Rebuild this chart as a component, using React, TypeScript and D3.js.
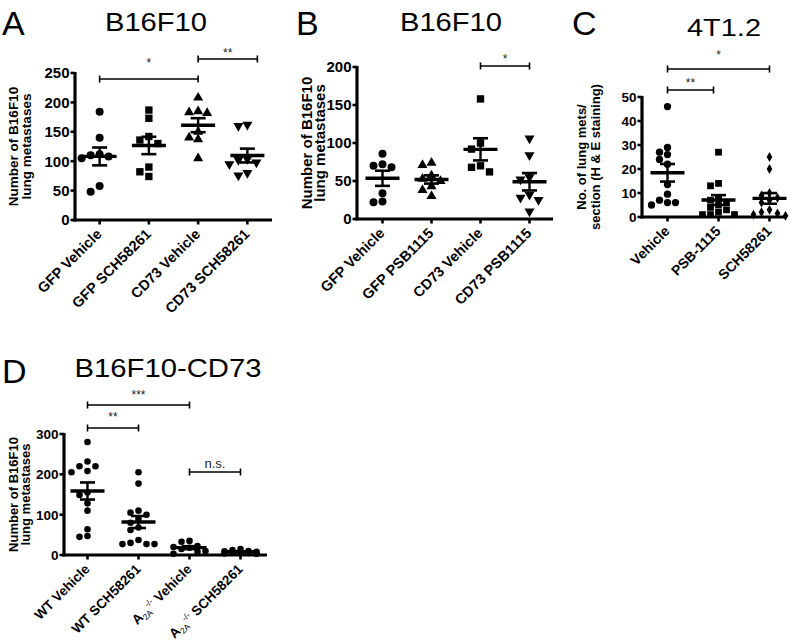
import React from "react";
import * as d3 from "d3";

const FONT = "'Liberation Sans', Arial, Helvetica, sans-serif";

// ---------------- Panel A ----------------
const aTitle = "B16F10";
const aCategories = ["GFP Vehicle", "GFP SCH58261", "CD73 Vehicle", "CD73 SCH58261"];
const aGfpVehicle = [184, 140, 112, 110, 108, 105, 58, 48];
const aGfpSch58261 = [187, 173, 142, 136, 130, 90, 82, 74];
const aCd73Vehicle = [208, 185, 183, 182, 150, 140, 137, 105];
const aCd73Sch58261 = [162, 160, 104, 102, 98, 95, 80, 76];
const aYTicks = [0, 50, 100, 150, 200, 250];
const aYTitle = ["Number of B16F10", "lung metastases"];
const aSignificance = [
  { from: 0, to: 2, label: "*" },
  { from: 2, to: 3, label: "**" },
];

// ---------------- Panel B ----------------
const bTitle = "B16F10";
const bCategories = ["GFP Vehicle", "GFP PSB1115", "CD73 Vehicle", "CD73 PSB1115"];
const bGfpVehicle = [86, 72, 70, 68, 34, 23, 22];
const bGfpPsb1115 = [74, 71, 57, 53, 50, 43, 38, 30];
const bCd73Vehicle = [158, 100, 92, 70, 68, 62];
const bCd73Psb1115 = [106, 84, 55, 52, 32, 28, 25, 10];
const bYTicks = [0, 50, 100, 150, 200];
const bYTitle = ["Number of B16F10", "lung metastases"];
const bSignificance = [{ from: 2, to: 3, label: "*" }];

// ---------------- Panel C ----------------
const cTitle = "4T1.2";
const cCategories = ["Vehicle", "PSB-1115", "SCH58261"];
const cVehicle = [46, 29, 27, 26, 24, 22, 13.5, 9.5, 7, 6, 6, 5];
const cPsb1115 = [27, 14, 13, 8, 7, 6, 5, 4, 3, 2, 1, 1, 1];
const cSch58261 = [25, 20, 10, 9, 8, 7, 6, 3, 2, 1.5, 1, 0.5];
const cYTicks = [0, 10, 20, 30, 40, 50];
const cYTitle = ["No. of lung mets/", "section (H & E staining)"];
const cSignificance = [
  { from: 0, to: 2, label: "*" },
  { from: 0, to: 1, label: "**" },
];

// ---------------- Panel D ----------------
const dTitle = "B16F10-CD73";
const dCategories = ["WT Vehicle", "WT SCH58261", "A2A-/- Vehicle", "A2A-/- SCH58261"];
const dWtVehicle = [280, 232, 220, 220, 208, 205, 155, 149, 128, 110, 64, 47, 45];
const dWtSch58261 = [205, 177, 110, 105, 100, 90, 80, 68, 62, 37, 30, 27, 27, 27];
const dA2aVehicle = [35, 33, 22, 20, 18, 15, 10, 8, 3];
const dA2aSch58261 = [15, 12, 10, 9, 8, 7, 6, 5, 4, 3];
const dYTicks = [0, 100, 200, 300];
const dYTitle = ["Number of B16F10", "lung metastases"];
const dSignificance = [
  { from: 0, to: 2, label: "***" },
  { from: 0, to: 1, label: "**" },
  { from: 2, to: 3, label: "n.s." },
];

type Sig = { from: number; to: number; label: string };
type SigLayout = { barY: number; labelY: number; x1Adj?: number; x2Adj?: number; fontSize: number };

const symbolTypes: Record<string, d3.SymbolType> = {
  circle: d3.symbolCircle,
  square: d3.symbolSquare,
  triangle: d3.symbolTriangle,
  triangleDown: d3.symbolTriangle,
  diamond: d3.symbolDiamond,
};

function dodge(ys: number[], d: number, step: number, maxK: number): number[] {
  const idx = ys.map((_, i) => i).sort((a, b) => ys[a] - ys[b]);
  const cands = [0];
  for (let k = 1; k <= maxK; k++) cands.push(-k * step, k * step);
  const placed: { x: number; y: number }[] = [];
  const out = new Array(ys.length).fill(0);
  for (const i of idx) {
    let best = 0;
    let bestScore = -Infinity;
    for (const c of cands) {
      let minD = Infinity;
      for (const p of placed) minD = Math.min(minD, Math.hypot(c - p.x, ys[i] - p.y));
      if (minD >= d) {
        best = c;
        bestScore = Infinity;
        break;
      }
      if (minD > bestScore) {
        bestScore = minD;
        best = c;
      }
    }
    out[i] = best;
    placed.push({ x: best, y: ys[i] });
  }
  return out;
}

function CatLabel({ label, fs }: { label: string; fs: number }) {
  if (label.startsWith("A2A-/-")) {
    const rest = label.slice(6);
    return (
      <>
        A
        <tspan fontSize={fs * 0.62} dy={3} fontWeight="normal">2A</tspan>
        <tspan fontSize={fs * 0.62} dy={-8} fontWeight="normal">{"-/-"}</tspan>
        <tspan dy={5}>{rest}</tspan>
      </>
    );
  }
  return <>{label}</>;
}

type PanelProps = {
  categories: string[];
  groups: number[][];
  shapes: string[];
  yTicks: number[];
  yMax: number;
  axisX: number;
  axisEnd: number;
  yTop: number;
  yBottom: number;
  catRange: [number, number];
  tickFont: number;
  catFont: number;
  yTitle: string[];
  yTitleX: number[];
  yTitleFont: number;
  sig: Sig[];
  sigLayout: SigLayout[];
  markerArea: Record<string, number>;
  labelDx: number;
  labelDy: number;
  dodgeD: number;
  dodgeStep: number;
  dodgeK: number;
};

function Panel(p: PanelProps) {
  const x = d3.scalePoint<string>().domain(p.categories).range(p.catRange).padding(0.5);
  const y = d3.scaleLinear().domain([0, p.yMax]).range([p.yBottom, p.yTop]);
  const yMid = (p.yTop + p.yBottom) / 2;
  return (
    <g fontFamily={FONT}>
      {p.groups.map((vals, gi) => {
        const cx = x(p.categories[gi]) as number;
        const ys = vals.map((v) => y(v));
        const offs = dodge(ys, p.dodgeD, p.dodgeStep, p.dodgeK);
        const shape = p.shapes[gi];
        const path = d3.symbol().type(symbolTypes[shape]).size(p.markerArea[shape])() as string;
        return (
          <g key={"pts" + gi}>
            {vals.map((v, i) => (
              <path
                key={i}
                d={path}
                fill="#000"
                transform={`translate(${cx + offs[i]},${ys[i]})${shape === "triangleDown" ? " rotate(180)" : ""}`}
              />
            ))}
          </g>
        );
      })}
      {p.groups.map((vals, gi) => {
        const cx = x(p.categories[gi]) as number;
        const m = d3.mean(vals) as number;
        const sem = (d3.deviation(vals) as number) / Math.sqrt(vals.length);
        return (
          <g key={"ms" + gi} stroke="#000" fill="none">
            <line x1={cx - 17} x2={cx + 17} y1={y(m)} y2={y(m)} strokeWidth={3.4} />
            <line x1={cx} x2={cx} y1={y(m - sem)} y2={y(m + sem)} strokeWidth={2.4} />
            <line x1={cx - 7.5} x2={cx + 7.5} y1={y(m + sem)} y2={y(m + sem)} strokeWidth={2.6} />
            <line x1={cx - 7.5} x2={cx + 7.5} y1={y(m - sem)} y2={y(m - sem)} strokeWidth={2.6} />
          </g>
        );
      })}
      <g stroke="#000" fill="none">
        <line x1={p.axisX} x2={p.axisX} y1={p.yTop - 1} y2={p.yBottom + 1.5} strokeWidth={3.2} />
        <line x1={p.axisX - 1.5} x2={p.axisEnd} y1={p.yBottom} y2={p.yBottom} strokeWidth={3.2} />
        {p.yTicks.map((t) => (
          <line key={t} x1={p.axisX - 4.5} x2={p.axisX} y1={y(t)} y2={y(t)} strokeWidth={2.6} />
        ))}
        {p.categories.map((c) => (
          <line key={c} x1={x(c)} x2={x(c)} y1={p.yBottom} y2={p.yBottom + 4.5} strokeWidth={2.6} />
        ))}
      </g>
      {p.yTicks.map((t) => (
        <text
          key={t}
          x={p.axisX - 5.5}
          y={y(t)}
          dy="0.36em"
          textAnchor="end"
          fontSize={p.tickFont}
          fontWeight="bold"
        >
          {t}
        </text>
      ))}
      {p.categories.map((c) => (
        <text
          key={c}
          transform={`translate(${(x(c) as number) + p.labelDx},${p.yBottom + p.labelDy}) rotate(-45)`}
          textAnchor="end"
          fontSize={p.catFont}
          fontWeight="bold"
        >
          <CatLabel label={c} fs={p.catFont} />
        </text>
      ))}
      {p.yTitle.map((line, i) => (
        <text
          key={line}
          transform={`translate(${p.yTitleX[i]},${yMid}) rotate(-90)`}
          textAnchor="middle"
          fontSize={p.yTitleFont}
          fontWeight="bold"
        >
          {line}
        </text>
      ))}
      {p.sig.map((s, i) => {
        const L = p.sigLayout[i];
        const x1 = (x(p.categories[s.from]) as number) + (L.x1Adj ?? 0);
        const x2 = (x(p.categories[s.to]) as number) + (L.x2Adj ?? 0);
        return (
          <g key={"sig" + i}>
            <g stroke="#000" strokeWidth={1.6}>
              <line x1={x1} x2={x2} y1={L.barY} y2={L.barY} />
              <line x1={x1} x2={x1} y1={L.barY - 3.5} y2={L.barY + 3.5} />
              <line x1={x2} x2={x2} y1={L.barY - 3.5} y2={L.barY + 3.5} />
            </g>
            <text x={(x1 + x2) / 2} y={L.labelY} textAnchor="middle" fontSize={L.fontSize} fill="#222">
              {s.label}
            </text>
          </g>
        );
      })}
    </g>
  );
}

function Heading({ letter, lx, ly, title, tx, ty, tfs, tlen }: any) {
  return (
    <g fontFamily={FONT}>
      <text x={lx} y={ly} fontSize={34}>
        {letter}
      </text>
      <text x={tx} y={ty} fontSize={tfs} textAnchor="middle" textLength={tlen} lengthAdjust="spacingAndGlyphs">
        {title}
      </text>
    </g>
  );
}

export default function App() {
  const baseArea = { circle: 50, square: 54, triangle: 44, triangleDown: 44, diamond: 28 };
  return (
    <svg
      width={796}
      height={643}
      viewBox="0 0 796 643"
      style={{ position: "absolute", left: 0, top: 0, background: "#fff" }}
    >
      <rect width={796} height={643} fill="#fff" />
      <Heading letter="A" lx={2} ly={35} title={aTitle} tx={156} ty={31} tfs={25} tlen={102} />
      <Panel
        categories={aCategories}
        groups={[aGfpVehicle, aGfpSch58261, aCd73Vehicle, aCd73Sch58261]}
        shapes={["circle", "square", "triangle", "triangleDown"]}
        yTicks={aYTicks}
        yMax={250}
        axisX={75}
        axisEnd={272}
        yTop={73}
        yBottom={220}
        catRange={[75, 272]}
        tickFont={15}
        catFont={14.5}
        yTitle={aYTitle}
        yTitleX={[18, 31]}
        yTitleFont={13.5}
        sig={aSignificance}
        sigLayout={[
          { barY: 79, labelY: 67, fontSize: 12 },
          { barY: 59, labelY: 57, x2Adj: 10, fontSize: 12 },
        ]}
        markerArea={baseArea}
        labelDx={3}
        labelDy={15}
        dodgeD={7.5}
        dodgeStep={9}
        dodgeK={2}
      />
      <Heading letter="B" lx={296} ly={35} title={bTitle} tx={451} ty={31} tfs={25} tlen={102} />
      <Panel
        categories={bCategories}
        groups={[bGfpVehicle, bGfpPsb1115, bCd73Vehicle, bCd73Psb1115]}
        shapes={["circle", "triangle", "square", "triangleDown"]}
        yTicks={bYTicks}
        yMax={200}
        axisX={357}
        axisEnd={553}
        yTop={67}
        yBottom={219}
        catRange={[358, 554]}
        tickFont={15}
        catFont={14.5}
        yTitle={bYTitle}
        yTitleX={[312, 325]}
        yTitleFont={15}
        sig={bSignificance}
        sigLayout={[{ barY: 66, labelY: 63, fontSize: 12 }]}
        markerArea={baseArea}
        labelDx={3}
        labelDy={15}
        dodgeD={7.5}
        dodgeStep={9}
        dodgeK={2}
      />
      <Heading letter="C" lx={572} ly={35} title={cTitle} tx={724} ty={36} tfs={23} tlen={74} />
      <Panel
        categories={cCategories}
        groups={[cVehicle, cPsb1115, cSch58261]}
        shapes={["circle", "square", "diamond"]}
        yTicks={cYTicks}
        yMax={50}
        axisX={642}
        axisEnd={785}
        yTop={97}
        yBottom={217}
        catRange={[642, 795]}
        tickFont={13.5}
        catFont={14}
        yTitle={cYTitle}
        yTitleX={[586, 600]}
        yTitleFont={13}
        sig={cSignificance}
        sigLayout={[
          { barY: 69, labelY: 59, fontSize: 12 },
          { barY: 90, labelY: 87, x2Adj: -5, fontSize: 12 },
        ]}
        markerArea={{ ...baseArea, circle: 42, square: 46 }}
        labelDx={3}
        labelDy={15}
        dodgeD={6.5}
        dodgeStep={8}
        dodgeK={2}
      />
      <Heading letter="D" lx={2} ly={383} title={dTitle} tx={168} ty={377} tfs={26} tlen={187} />
      <Panel
        categories={dCategories}
        groups={[dWtVehicle, dWtSch58261, dA2aVehicle, dA2aSch58261]}
        shapes={["circle", "circle", "circle", "circle"]}
        yTicks={dYTicks}
        yMax={300}
        axisX={64}
        axisEnd={267}
        yTop={434}
        yBottom={555}
        catRange={[62, 266]}
        tickFont={13.5}
        catFont={13.5}
        yTitle={dYTitle}
        yTitleX={[18, 30]}
        yTitleFont={13}
        sig={dSignificance}
        sigLayout={[
          { barY: 405, labelY: 399, fontSize: 12 },
          { barY: 428, labelY: 421, fontSize: 12 },
          { barY: 472, labelY: 468, fontSize: 13 },
        ]}
        markerArea={{ ...baseArea, circle: 34 }}
        labelDx={3}
        labelDy={15}
        dodgeD={6.5}
        dodgeStep={8}
        dodgeK={2}
      />
    </svg>
  );
}
